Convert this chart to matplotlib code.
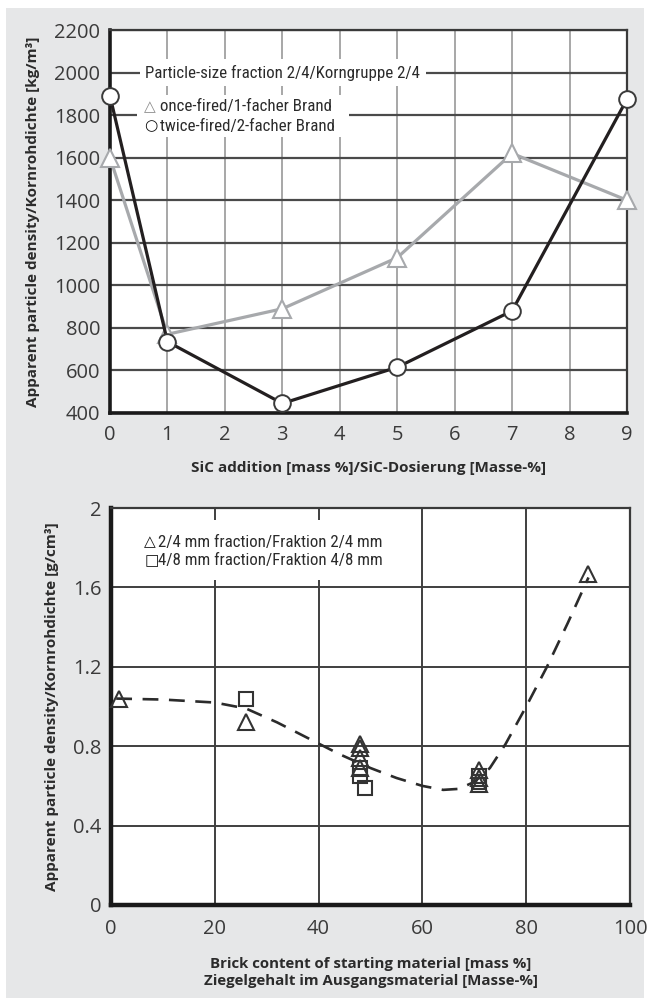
import matplotlib
matplotlib.use('Agg')
import matplotlib.pyplot as plt
from matplotlib.patches import Rectangle

# ---------------- data ----------------
sic_x = [0, 1, 3, 5, 7, 9]
once_fired = [1600, 770, 890, 1130, 1620, 1400]
twice_fired = [1890, 735, 445, 615, 880, 1875]
top_yticks = [400, 600, 800, 1000, 1200, 1400, 1600, 1800, 2000, 2200]
top_xticks = [0, 1, 2, 3, 4, 5, 6, 7, 8, 9]

tri_x = [1.5, 26, 48, 48, 48, 48, 71, 71, 71, 92]
tri_y = [1.04, 0.92, 0.81, 0.79, 0.74, 0.69, 0.68, 0.64, 0.61, 1.67]
sq_x = [26, 48, 48, 49, 71, 71]
sq_y = [1.04, 0.69, 0.65, 0.59, 0.65, 0.62]
fit_x = [1, 10, 20, 26, 32, 38, 44, 50, 55, 60, 64, 67, 70, 73, 76, 80, 84, 88, 92]
fit_y = [1.04, 1.035, 1.02, 0.99, 0.92, 0.84, 0.76, 0.69, 0.64, 0.60, 0.58, 0.585,
         0.62, 0.69, 0.81, 1.00, 1.20, 1.42, 1.65]
bot_yticks = [0, 0.4, 0.8, 1.2, 1.6, 2]
bot_yticklabels = ['0', '0.4', '0.8', '1.2', '1.6', '2']
bot_xticks = [0, 20, 40, 60, 80, 100]

# ---------------- style ----------------
TICK_FONT = ['Open Sans', 'DejaVu Sans']
LEGEND_FONT = ['Roboto Condensed', 'Sofia Sans Condensed', 'DejaVu Sans']
TXT = '#2b2b2b'
GRAY_LINE = '#a7a9ac'
DARK_LINE = '#231f20'

W, H = 649, 1001
fig = plt.figure(figsize=(W / 100, H / 100), dpi=100)
fig.patch.set_facecolor('white')
bg = Rectangle((6 / W, 1 - 998 / H), (644 - 6) / W, (998 - 8) / H,
               transform=fig.transFigure, facecolor='#e6e7e8',
               edgecolor='none', zorder=-10)
fig.add_artist(bg)


def px_axes(x0, y0, x1, y1):
    return fig.add_axes([x0 / W, 1 - y1 / H, (x1 - x0) / W, (y1 - y0) / H])


def style_axes(ax, hgrid_color, vgrid_color, hlw, vlw):
    ax.set_facecolor('white')
    ax.set_axisbelow(True)
    ax.yaxis.grid(True, color=hgrid_color, lw=hlw)
    ax.xaxis.grid(True, color=vgrid_color, lw=vlw)
    ax.tick_params(length=0, labelsize=14.5, labelcolor='#3a3a3a')
    for lab in ax.get_xticklabels() + ax.get_yticklabels():
        lab.set_family(TICK_FONT)
    ax.spines['left'].set_linewidth(2.6)
    ax.spines['bottom'].set_linewidth(2.6)
    ax.spines['left'].set_color('#1a1a1a')
    ax.spines['bottom'].set_color('#1a1a1a')
    ax.spines['top'].set_linewidth(1.6)
    ax.spines['right'].set_linewidth(1.6)
    ax.spines['top'].set_color('#3a3a3a')
    ax.spines['right'].set_color('#3a3a3a')


# ---------------- top chart ----------------
ax1 = px_axes(110, 30, 627, 413)
ax1.set_xlim(0, 9)
ax1.set_ylim(400, 2200)
ax1.set_xticks(top_xticks)
ax1.set_yticks(top_yticks)
style_axes(ax1, '#4a4a4a', '#8f8f8f', 1.6, 1.1)
ax1.tick_params(axis='x', pad=9)
ax1.tick_params(axis='y', pad=7)

ax1.plot(sic_x, once_fired, color=GRAY_LINE, lw=2.3, marker='^', ms=13,
         mfc='white', mec=GRAY_LINE, mew=1.5, clip_on=False, zorder=4)
ax1.plot(sic_x, twice_fired, color=DARK_LINE, lw=2.3, marker='o', ms=12,
         mfc='white', mec='#3a3a3a', mew=1.4, clip_on=False, zorder=5)

ax1.set_ylabel('Apparent particle density/Kornrohdichte [kg/m³]', family=TICK_FONT,
               fontweight='bold', fontsize=11, color=TXT, labelpad=10)
ax1.set_xlabel('SiC addition [mass %]/SiC-Dosierung [Masse-%]', family=TICK_FONT,
               fontweight='bold', fontsize=11, color=TXT, labelpad=11)

ax1.text(0.068, 0.888, 'Particle-size fraction 2/4/Korngruppe 2/4', transform=ax1.transAxes,
         family=LEGEND_FONT, fontsize=12.2, color=TXT, va='center', ha='left', zorder=6,
         bbox=dict(facecolor='white', edgecolor='none', pad=4))
ax1.add_patch(Rectangle((0.052, 0.72), 0.41, 0.11, transform=ax1.transAxes,
                        facecolor='white', edgecolor='none', zorder=2.2))
ax1.text(0.066, 0.799, '△', transform=ax1.transAxes, family=['DejaVu Sans'],
         fontsize=11, color='#8a8a8a', va='center', ha='left', zorder=6)
ax1.text(0.097, 0.799, 'once-fired/1-facher Brand', transform=ax1.transAxes,
         family=LEGEND_FONT, fontsize=12.2, color=TXT, va='center', ha='left', zorder=6)
ax1.text(0.066, 0.749, '○', transform=ax1.transAxes, family=['DejaVu Sans'],
         fontsize=11, color='#111111', va='center', ha='left', zorder=6)
ax1.text(0.097, 0.749, 'twice-fired/2-facher Brand', transform=ax1.transAxes,
         family=LEGEND_FONT, fontsize=12.2, color=TXT, va='center', ha='left', zorder=6)

# ---------------- bottom chart ----------------
ax2 = px_axes(111, 508, 630, 905)
ax2.set_xlim(0, 100)
ax2.set_ylim(0, 2)
ax2.set_xticks(bot_xticks)
ax2.set_yticks(bot_yticks)
ax2.set_yticklabels(bot_yticklabels)
style_axes(ax2, '#3f3f3f', '#3f3f3f', 1.4, 1.4)
ax2.spines['left'].set_linewidth(3.2)
ax2.spines['bottom'].set_linewidth(3.2)
ax2.tick_params(axis='x', pad=10)
ax2.tick_params(axis='y', pad=7)

ax2.plot(fit_x, fit_y, color='#2b2b2b', lw=1.9, ls=(0, (6, 4)), zorder=3)
ax2.plot(tri_x, tri_y, ls='none', marker='^', ms=11, mfc='none', mec='#333333',
         mew=1.5, clip_on=False, zorder=4)
ax2.plot(sq_x, sq_y, ls='none', marker='s', ms=9.5, mfc='none', mec='#333333',
         mew=1.5, clip_on=False, zorder=4)

ax2.add_patch(Rectangle((0.046, 0.819), 0.51, 0.151, transform=ax2.transAxes,
                        facecolor='white', edgecolor='none', zorder=2.2))
ax2.text(0.064, 0.914, '△', transform=ax2.transAxes, family=['DejaVu Sans'],
         fontsize=11, color='#111111', va='center', ha='left', zorder=6)
ax2.text(0.091, 0.914, '2/4 mm fraction/Fraktion 2/4 mm', transform=ax2.transAxes,
         family=LEGEND_FONT, fontsize=12.2, color=TXT, va='center', ha='left', zorder=6)
ax2.text(0.064, 0.867, '□', transform=ax2.transAxes, family=['DejaVu Sans'],
         fontsize=11, color='#111111', va='center', ha='left', zorder=6)
ax2.text(0.091, 0.867, '4/8 mm fraction/Fraktion 4/8 mm', transform=ax2.transAxes,
         family=LEGEND_FONT, fontsize=12.2, color=TXT, va='center', ha='left', zorder=6)

ax2.set_ylabel('Apparent particle density/Kornrohdichte [g/cm³]', family=TICK_FONT,
               fontweight='bold', fontsize=11, color=TXT, labelpad=10)
ax2.set_xlabel('Brick content of starting material [mass %]\nZiegelgehalt im Ausgangsmaterial [Masse-%]',
               family=TICK_FONT, fontweight='bold', fontsize=10.8, color=TXT,
               labelpad=13, linespacing=1.3)

fig.savefig('out.png', dpi=100)
